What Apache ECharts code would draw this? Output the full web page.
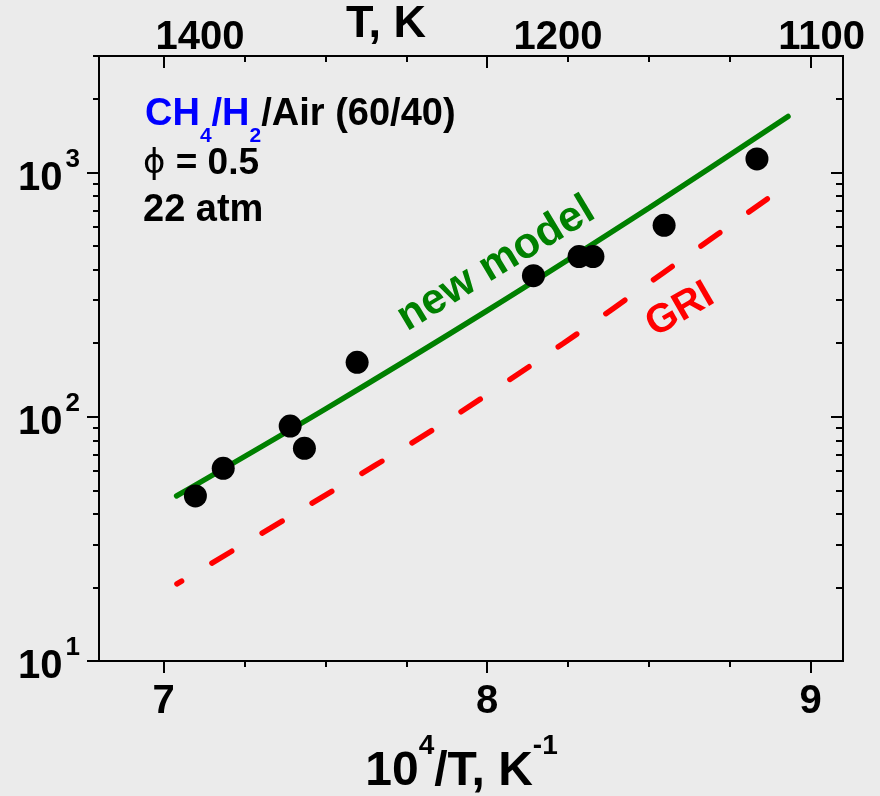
<!DOCTYPE html>
<html><head><meta charset="utf-8">
<script src="https://cdn.jsdelivr.net/npm/echarts@6/dist/echarts.min.js"></script>
<style>html,body{margin:0;padding:0;background:#ebebeb}#c{width:880px;height:796px}</style>
</head><body><div id="c"></div>
<script>
const FONT = "'Liberation Sans', Arial, Helvetica, sans-serif";

// ---- data ----
const measX = [7.098, 7.184, 7.391, 7.435, 7.598, 8.143, 8.284, 8.327, 8.547, 8.834];
const measY = [47.4, 61.5, 91.6, 74.3, 167, 378, 453, 453, 608, 1137];
const modelX = [7.04, 7.5, 8.0, 8.5, 8.93];
const modelY = [47.4, 107.6, 272, 716, 1697];
const griX = [7.041, 7.458, 7.845, 8.236, 8.545, 8.931];
const griY = [20.7, 44.2, 90.6, 200, 389, 898];

const xTicks = [7, 8, 9];
const xMinorTicks = [7.25, 7.5, 7.75, 8.25, 8.5, 8.75];
const yTicks = [10, 100, 1000];
const yMinorTicks = [20, 30, 40, 50, 60, 70, 80, 90, 200, 300, 400, 500, 600, 700, 800, 900, 2000, 3000];
const topTickLabels = ['1400', '1200', '1100'];
const topTickAt = [7.112, 8.219, 9.034];

const zip = (a, b) => a.map((v, i) => [v, b[i]]);

const X_MIN = 6.8, X_MAX = 9.1, Y_MIN = 10, Y_MAX = 3000;
const black = '#000';

function xAxisDef(pos, ticks, len, inside, labels) {
  return {
    type: 'value', position: pos, min: X_MIN, max: X_MAX, gridIndex: 0,
    axisLine: { show: true, onZero: false, lineStyle: { color: black, width: 2 } },
    axisTick: { show: true, customValues: ticks, length: len, inside: inside, lineStyle: { color: black, width: 2 } },
    axisLabel: labels || { show: false },
    splitLine: { show: false }
  };
}
function yAxisDef(pos, ticks, len, inside, labels) {
  return {
    type: 'log', logBase: 10, position: pos, min: Y_MIN, max: Y_MAX, gridIndex: 0,
    axisLine: { show: true, onZero: false, lineStyle: { color: black, width: 2 } },
    axisTick: { show: true, customValues: ticks, length: len, inside: inside, lineStyle: { color: black, width: 2 } },
    axisLabel: labels || { show: false },
    splitLine: { show: false }
  };
}

const chart = echarts.init(document.getElementById('c'), null, { renderer: 'canvas' });

const option = {
  backgroundColor: '#ebebeb',
  animation: false,
  grid: { left: 99, right: 37, top: 56, bottom: 135, containLabel: false, outerBoundsMode: 'none' },
  xAxis: [
    Object.assign(xAxisDef('bottom', xTicks, 12, false, {
      show: true, customValues: xTicks, margin: 21,
      color: black, fontFamily: FONT, fontWeight: 'bold', fontSize: 40, lineHeight: 40,
      formatter: v => String(Math.round(v))
    }), {
      name: '{b|10}{s|4}{b|/T, K}{s|-1}',
      nameLocation: 'middle', nameGap: 71,
      nameTextStyle: {
        color: black, padding: [0, 19, 0, 0],
        rich: {
          b: { fontFamily: FONT, fontWeight: 'bold', fontSize: 48, lineHeight: 64, verticalAlign: 'bottom', color: black },
          s: { fontFamily: FONT, fontWeight: 'bold', fontSize: 28, lineHeight: 28, verticalAlign: 'top', color: black }
        }
      }
    }),
    xAxisDef('bottom', xMinorTicks, 6, false),
    xAxisDef('top', xTicks, 12, true, {
      show: true, customValues: topTickAt, margin: 3, inside: false,
      color: black, fontFamily: FONT, fontWeight: 'bold', fontSize: 40, lineHeight: 30,
      formatter: v => { const i = topTickAt.findIndex(t => Math.abs(t - v) < 1e-6); return i >= 0 ? topTickLabels[i] : ''; }
    }),
    xAxisDef('top', xMinorTicks, 6, true)
  ],
  yAxis: [
    yAxisDef('left', yTicks, 12, false, {
      show: true, customValues: yTicks, margin: 19,
      formatter: v => '{b|10}{s|' + Math.round(Math.log10(v)) + '}',
      rich: {
        b: { fontFamily: FONT, fontWeight: 'bold', fontSize: 40, lineHeight: 52, verticalAlign: 'bottom', color: black },
        s: { fontFamily: FONT, fontWeight: 'bold', fontSize: 26, lineHeight: 26, verticalAlign: 'top', color: black, padding: [0, 0, 0, 3] }
      }
    }),
    yAxisDef('left', yMinorTicks, 6, false),
    yAxisDef('right', yTicks, 12, true),
    yAxisDef('right', yMinorTicks, 7, true)
  ],
  series: [
    {
      name: 'GRI', type: 'line', xAxisIndex: 0, yAxisIndex: 0,
      data: zip(griX, griY), showSymbol: false, symbol: 'none', smooth: 0.3, z: 2,
      lineStyle: { color: '#ff0000', width: 5.5, type: [23, 35.3], dashOffset: 17.5, cap: 'round' }
    },
    {
      name: 'new model', type: 'line', xAxisIndex: 0, yAxisIndex: 0,
      data: zip(modelX, modelY), showSymbol: false, symbol: 'none', smooth: 0.3, z: 3,
      lineStyle: { color: '#008000', width: 5.5, cap: 'round' }
    },
    {
      name: 'measurements', type: 'scatter', xAxisIndex: 0, yAxisIndex: 0,
      data: zip(measX, measY), symbol: 'circle', symbolSize: 23, z: 4,
      itemStyle: { color: black, opacity: 1 },
      emphasis: { disabled: true }
    }
  ],
  graphic: [
    { type: 'text', x: 386, y: 25, style: { text: 'T, K', fill: black, font: 'bold 45px ' + FONT, align: 'center', verticalAlign: 'middle' } },
    { type: 'text', x: 145, y: 96, style: {
      text: '{c|CH}{cs|4}{c|/H}{cs|2}{k|/Air (60/40)}', align: 'left', verticalAlign: 'top',
      rich: {
        c: { fontFamily: FONT, fontWeight: 'bold', fontSize: 38, lineHeight: 40, verticalAlign: 'top', fill: '#0000ff' },
        cs: { fontFamily: FONT, fontWeight: 'bold', fontSize: 21, lineHeight: 51, verticalAlign: 'bottom', fill: '#0000ff' },
        k: { fontFamily: FONT, fontWeight: 'bold', fontSize: 38, lineHeight: 40, verticalAlign: 'top', fill: black }
      } } },
    { type: 'text', x: 143, y: 164.2, style: {
      text: '{p|ϕ}{t| = 0.5}', align: 'left', verticalAlign: 'middle',
      rich: {
        p: { fontFamily: "'DejaVu Sans', sans-serif", fontSize: 34, fill: black },
        t: { fontFamily: FONT, fontWeight: 'bold', fontSize: 37, fill: black }
      } } },
    { type: 'text', x: 143, y: 211, style: { text: '22 atm', fill: black, font: 'bold 38px ' + FONT, align: 'left', verticalAlign: 'middle' } },
    { type: 'text', x: 496, y: 264, rotation: 31 * Math.PI / 180, style: { text: 'new model', fill: '#008000', font: 'bold 43px ' + FONT, align: 'center', verticalAlign: 'middle' } },
    { type: 'text', x: 680, y: 310, rotation: 30 * Math.PI / 180, style: { text: 'GRI', fill: '#ff0000', font: 'bold 40px ' + FONT, align: 'center', verticalAlign: 'middle' } }
  ]
};
chart.setOption(option);
</script>
</body></html>
